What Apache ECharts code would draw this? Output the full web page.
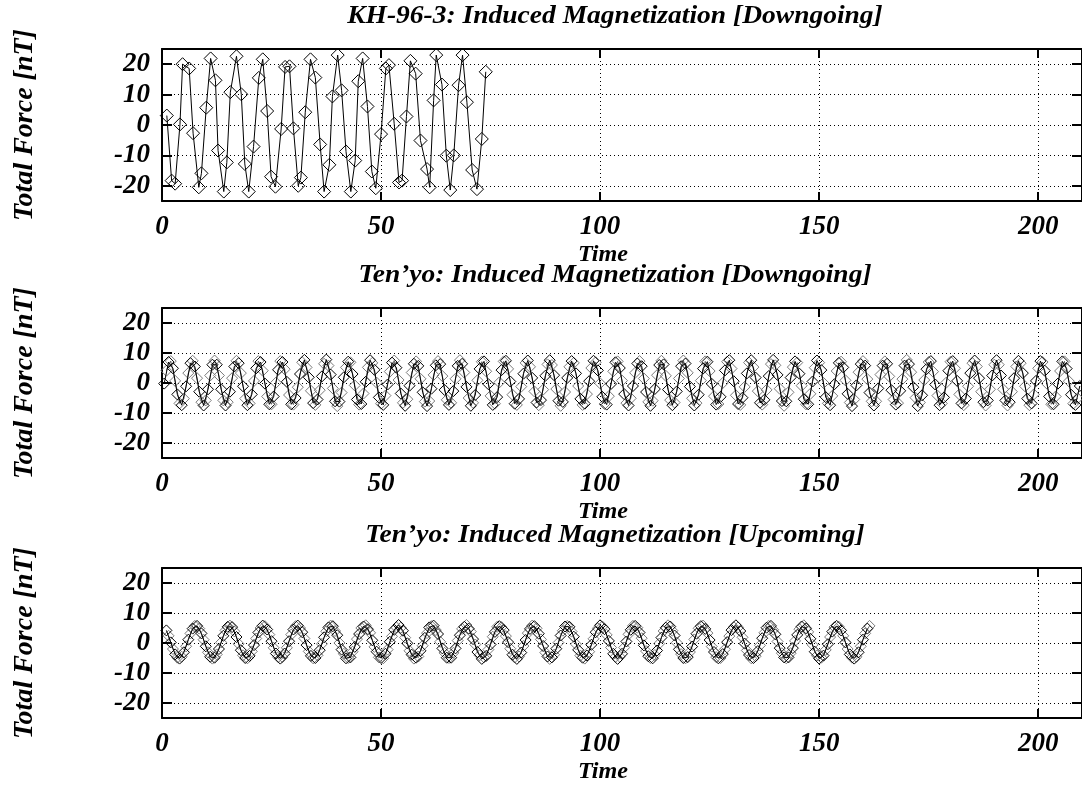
<!DOCTYPE html>
<html><head><meta charset="utf-8">
<script src="https://cdn.jsdelivr.net/npm/echarts@6/dist/echarts.min.js"></script>
<style>html,body{margin:0;padding:0;background:#fff}#c{width:1082px;height:787px}</style>
</head><body><div id="c"></div>
<script>
const titles = ["KH-96-3: Induced Magnetization [Downgoing]", "Ten\u2019yo: Induced Magnetization [Downgoing]", "Ten\u2019yo: Induced Magnetization [Upcoming]"];
const yName = "Total Force [nT]";
const xName = "Time";
const xTicks = [0, 50, 100, 150, 200];
const yTicks = [-20, -10, 0, 10, 20];

// KH-96-3 downgoing: sample times and values
const khTime = [1.1,2.2,3.0,4.1,4.7,6.2,7.1,8.4,9.0,10.1,11.1,12.2,12.8,14.1,14.8,15.6,17.0,18.1,18.9,19.8,20.9,22.1,23.0,24.0,24.9,25.9,27.2,28.1,29.1,30.0,31.1,31.7,32.7,33.9,35.0,36.1,37.0,38.2,38.9,40.1,41.0,42.0,43.1,44.1,44.8,45.8,46.9,47.9,48.8,50.0,51.1,51.8,53.0,54.1,54.8,55.8,56.7,57.9,59.0,60.5,61.1,62.0,62.6,63.9,64.9,65.8,66.6,67.7,68.6,69.6,70.8,71.9,73.0,73.9];
const khForce = [3.1,-18.3,-19.3,0.2,20.0,18.6,-2.7,-20.5,-15.9,5.7,21.9,14.7,-8.4,-21.9,-12.3,10.8,22.6,10.1,-12.8,-21.9,-7.1,15.5,21.6,4.6,-17.0,-20.3,-1.3,19.1,19.3,-1.1,-20.0,-17.3,4.2,21.6,15.6,-6.4,-21.9,-13.1,9.4,23.0,11.4,-8.7,-21.9,-11.7,14.4,21.9,6.1,-15.3,-20.8,-3.0,18.6,19.7,0.4,-18.9,-18.3,2.8,21.1,16.9,-5.1,-14.5,-20.5,8.1,23.0,13.3,-10.1,-21.4,-10.0,13.1,23.0,7.5,-14.8,-21.1,-4.6,17.5];

// Ten'yo downgoing: samples every 0.5 from t = 0.5
const dnStart = 0.5, dnStep = 0.5;
const dnForce = [
-0.2,4.1,7.0,7.3,4.9,0.7,-3.8,-6.8,-7.4,-5.2,-1.1,3.3,6.6,7.4,5.5,1.6,-2.9,-6.4,-7.5,-5.8,-2.1,2.5,6.1,7.5,6.1,2.5,-2.1,-5.8,-7.5,-6.4,-2.9,1.6,5.5,7.4,6.6,3.3,-1.1,-5.2,-7.4,-6.8,-3.8,0.7,4.9,7.3,7.0,4.1,-0.2,-4.5,-7.1,-7.1,-4.5,
0.1,4.4,7.3,7.0,4.6,0.4,-4.0,-7.1,-7.2,-5.0,-1.4,3.0,6.9,7.7,5.2,1.9,-2.6,-6.7,-7.3,-5.5,-2.4,2.2,6.4,7.8,5.8,2.8,-1.8,-6.1,-7.7,-6.2,-3.2,1.9,5.2,7.1,6.9,3.0,-0.8,-5.5,-7.2,-7.0,-3.5,0.4,5.2,7.6,6.7,4.4,0.1,-4.8,-6.9,-7.3,-4.2,
-0.5,3.8,6.8,7.5,5.1,1.0,-3.5,-6.6,-7.6,-5.4,-0.9,3.5,6.4,7.2,5.7,1.4,-3.1,-6.2,-7.7,-6.0,-1.9,2.7,5.9,7.3,6.3,2.3,-2.3,-5.6,-7.3,-6.6,-2.7,1.4,5.7,7.6,6.4,3.5,-1.3,-5.0,-7.6,-6.6,-4.0,0.9,4.7,7.1,7.2,3.9,-0.4,-4.3,-7.3,-6.9,-4.7,
0.2,4.3,7.2,7.4,4.7,0.5,-3.9,-6.9,-7.3,-5.3,-1.2,3.1,6.7,7.5,5.4,1.7,-2.8,-6.5,-7.4,-5.7,-2.2,2.4,6.2,7.6,6.0,2.6,-2.0,-5.9,-7.6,-6.3,-3.0,1.7,5.4,7.3,6.7,3.2,-1.0,-5.3,-7.3,-6.9,-3.7,0.6,5.0,7.4,6.9,4.2,-0.1,-4.6,-7.0,-7.2,-4.4,
-0.3,3.9,6.9,7.2,5.0,0.8,-3.7,-6.7,-7.5,-5.1,-1.0,3.4,6.5,7.3,5.6,1.5,-3.0,-6.3,-7.6,-5.9,-2.0,2.6,6.0,7.4,6.2,2.4,-2.2,-5.7,-7.4,-6.5,-2.8,1.5,5.6,7.5,6.5,3.4,-1.2,-5.1,-7.5,-6.7,-3.9,0.8,4.8,7.2,7.1,4.0,-0.3,-4.4,-7.2,-7.0,-4.6,
0.0,4.2,7.1,7.6,4.8,0.6,-4.1,-7.0,-7.3,-4.9,-1.3,3.2,6.8,7.6,5.3,1.8,-2.7,-6.6,-7.2,-5.6,-2.3,2.3,6.3,7.7,5.9,2.7,-1.9,-6.0,-7.6,-6.1,-3.1,1.8,5.3,7.2,6.8,3.1,-0.9,-5.4,-7.1,-7.1,-3.6,0.5,5.1,7.5,6.8,4.3,0.0,-4.7,-6.8,-7.4,-4.3,
-0.4,4.0,6.7,7.1,5.2,0.9,-3.6,-6.5,-7.7,-5.5,-0.8,3.6,6.3,7.3,5.8,1.3,-3.2,-6.1,-7.5,-6.1,-1.8,2.8,5.8,7.2,6.4,2.2,-2.4,-5.5,-7.2,-6.7,-2.6,1.3,5.8,7.7,6.3,3.6,-1.4,-4.9,-7.7,-6.5,-4.1,1.0,4.6,7.0,7.3,3.8,-0.5,-4.2,-7.4,-6.8,-4.8,
0.1,4.1,7.1,7.3,4.9,0.7,-3.8,-6.8,-7.4,-5.2,-1.1,3.3,6.6,7.5,5.5,1.6,-2.9,-6.4,-7.5,-5.8,-2.1,2.5,6.1,7.6,6.1,2.5,-2.1,-5.8,-7.5,-6.4,-2.9,1.6,5.5,7.4,6.6,3.3,-1.1,-5.2,-7.4,-6.8,-3.8,0.7,4.9,7.3,7.0,4.1,-0.2,-4.5,-7.1,-7.1,-4.5,
-0.2,4.0,7.2,7.2,4.8,0.6,-3.9,-6.9,-7.3,-5.1,-1.0
];

// Ten'yo upcoming: samples every 0.5 from t = 1.0
const upStart = 1.0, upStep = 0.5;
const upForce = [
4.2,2.4,0.2,-2.0,-3.8,-4.9,-5.2,-4.6,-3.1,-1.1,1.1,3.2,4.8,5.7,5.7,4.8,3.2,1.1,-1.1,-3.1,-4.6,-5.2,-4.9,-3.8,-2.0,0.2,2.4,4.2,5.4,5.8,5.3,3.9,2.0,-0.3,-2.4,-4.1,-5.0,-5.1,-4.3,-2.8,-0.7,1.5,3.5,5.0,5.8,5.6,4.5,2.8,0.6,-1.6,-3.5,-4.7,-5.2,-4.7,-3.5,-1.6,0.6,2.8,4.5,5.6,5.8,5.0,3.6,1.5,-0.7,-2.8,-4.3,-5.1,-5.0,-4.1,-2.4,-0.3,1.9,3.9,5.2,5.8,
5.6,4.0,2.6,0.0,-2.2,-3.6,-5.1,-5.0,-4.8,-2.9,-1.3,1.3,3.0,5.0,5.5,5.9,4.6,3.4,0.9,-1.3,-2.9,-4.8,-5.0,-5.1,-3.6,-2.2,0.4,2.2,4.4,5.2,6.0,5.1,4.1,1.8,-0.1,-2.6,-3.9,-5.2,-4.9,-4.5,-2.6,-0.9,1.7,3.3,5.2,5.6,5.8,4.3,3.0,0.4,-1.8,-3.3,-4.9,-5.0,-4.9,-3.3,-1.8,0.8,2.6,4.7,5.4,6.0,4.8,3.8,1.3,-0.5,-3.0,-4.1,-5.3,-4.8,-4.3,-2.2,-0.5,2.1,3.7,5.4,5.6,
5.3,4.3,2.3,0.3,-1.9,-3.9,-4.8,-5.3,-4.5,-3.2,-1.0,1.0,3.3,4.7,5.8,5.6,4.9,3.1,1.2,-1.0,-3.2,-4.5,-5.3,-4.8,-3.9,-1.9,0.1,2.5,4.1,5.5,5.7,5.4,3.8,2.1,-0.4,-2.3,-4.2,-4.9,-5.2,-4.2,-2.9,-0.6,1.4,3.6,4.9,5.9,5.5,4.6,2.7,0.7,-1.5,-3.6,-4.6,-5.3,-4.6,-3.6,-1.5,0.5,2.9,4.4,5.7,5.7,5.1,3.5,1.6,-0.8,-2.7,-4.4,-5.0,-5.1,-4.0,-2.5,-0.2,1.8,4.0,5.1,5.9,
5.5,4.1,2.5,0.1,-2.1,-3.7,-5.0,-5.1,-4.7,-3.0,-1.2,1.2,3.1,4.9,5.6,5.8,4.7,3.3,1.0,-1.2,-3.0,-4.7,-5.1,-5.0,-3.7,-2.1,0.3,2.3,4.3,5.3,5.9,5.2,4.0,1.9,-0.2,-2.5,-4.0,-5.1,-5.0,-4.4,-2.7,-0.8,1.6,3.4,5.1,5.7,5.7,4.4,2.9,0.5,-1.7,-3.4,-4.8,-5.1,-4.8,-3.4,-1.7,0.7,2.7,4.6,5.5,5.9,4.9,3.7,1.4,-0.6,-2.9,-4.2,-5.2,-4.9,-4.2,-2.3,-0.4,2.0,3.8,5.3,5.7,
5.4,4.2,2.4,0.2,-2.0,-3.8,-4.9,-5.2,-4.6,-3.1,-1.1,1.1,3.2,4.8,5.7
];

const FONT = '"Liberation Serif","DejaVu Serif",serif';
const txt = {fontFamily: FONT, fontStyle: 'italic', fontWeight: 'bold', color: '#000'};
const grids = [
  {left: 162, top: 49, width: 921, height: 152},
  {left: 162, top: 308, width: 921, height: 150},
  {left: 162, top: 568, width: 921, height: 150}
];

function split(start, step, vals, parity) {
  const out = [];
  vals.forEach((v, i) => { if (i % 2 === parity) out.push([start + step * i, v]); });
  return out;
}

const xAxis = [], yAxis = [];
const frame = {show: true, onZero: false, lineStyle: {color: '#000', width: 2}};
const dotted = {show: true, lineStyle: {color: '#000', width: 1, type: [1, 3]}};
grids.forEach((g, i) => {
  xAxis.push({type: 'value', gridIndex: i, position: 'bottom', min: 0, max: 210, interval: 50,
    axisLine: frame,
    axisTick: {show: true, inside: true, length: 9, customValues: xTicks, lineStyle: {color: '#000', width: 2}},
    axisLabel: Object.assign({fontSize: 27, margin: 13, customValues: xTicks}, txt),
    splitLine: dotted});
  xAxis.push({type: 'value', gridIndex: i, position: 'top', min: 0, max: 210, interval: 50,
    axisLine: frame,
    axisTick: {show: true, inside: true, length: 9, customValues: xTicks, lineStyle: {color: '#000', width: 2}},
    axisLabel: {show: false}, splitLine: {show: false}});
  yAxis.push({type: 'value', gridIndex: i, position: 'left', min: -25, max: 25,
    axisLine: frame,
    axisTick: {show: true, inside: true, length: 10, customValues: yTicks, lineStyle: {color: '#000', width: 2}},
    axisLabel: Object.assign({fontSize: 27, margin: 12, customValues: yTicks}, txt),
    splitLine: dotted});
  yAxis.push({type: 'value', gridIndex: i, position: 'right', min: -25, max: 25,
    axisLine: frame,
    axisTick: {show: true, inside: true, length: 10, customValues: yTicks, lineStyle: {color: '#000', width: 2}},
    axisLabel: {show: false}, splitLine: {show: false}});
});

function mk(i, data, dark, size) {
  return {type: 'line', xAxisIndex: 2 * i, yAxisIndex: 2 * i, data: data,
    symbol: 'diamond', symbolSize: size, showSymbol: true, showAllSymbol: true,
    animation: false, silent: true, z: dark ? 3 : 2,
    lineStyle: {color: dark ? '#000' : '#444', width: dark ? 1 : 0.8},
    itemStyle: {color: 'rgba(0,0,0,0)', borderColor: dark ? '#000' : '#7a7a7a', borderWidth: 1}};
}

const series = [
  mk(0, khTime.map((t, j) => [t, khForce[j]]), true, 13),
  mk(1, split(dnStart, dnStep, dnForce, 1), false, 11),
  mk(1, split(dnStart, dnStep, dnForce, 0), true, 11),
  mk(2, split(upStart, upStep, upForce, 1), false, 11),
  mk(2, split(upStart, upStep, upForce, 0), true, 11)
];

const graphic = [];
grids.forEach((g, i) => {
  graphic.push({type: 'text', x: 615, y: g.top - 32, scaleX: 1.1, z: 10,
    style: {text: titles[i], fontFamily: FONT, fontStyle: 'italic', fontWeight: 'bold', fontSize: 25, fill: '#000', align: 'center', verticalAlign: 'middle', textAlign: 'center', textVerticalAlign: 'middle'}});
  graphic.push({type: 'text', x: 603, y: g.top + g.height + 54, scaleX: 1.05, z: 10,
    style: {text: xName, fontFamily: FONT, fontStyle: 'italic', fontWeight: 'bold', fontSize: 23, fill: '#000', align: 'center', verticalAlign: 'middle', textAlign: 'center', textVerticalAlign: 'middle'}});
  graphic.push({type: 'text', x: 25, y: g.top + g.height / 2, rotation: Math.PI / 2, z: 10,
    style: {text: yName, fontFamily: FONT, fontStyle: 'italic', fontWeight: 'bold', fontSize: 28, fill: '#000', align: 'center', verticalAlign: 'middle', textAlign: 'center', textVerticalAlign: 'middle'}});
});

const chart = echarts.init(document.getElementById('c'), null, {renderer: 'canvas'});
chart.setOption({animation: false, backgroundColor: '#fff', grid: grids, xAxis: xAxis, yAxis: yAxis, series: series, graphic: graphic});
</script></body></html>
